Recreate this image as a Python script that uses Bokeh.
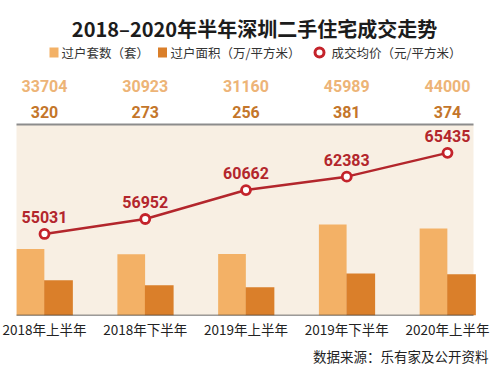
from bokeh.plotting import figure
from bokeh.models import Range1d, FixedTicker, BoxAnnotation, Title
from bokeh.core.properties import value
from bokeh.embed import file_html
from bokeh.resources import INLINE

# ---- data ----
periods = ["2018年上半年", "2018年下半年", "2019年上半年", "2019年下半年", "2020年上半年"]
deals = [33704, 30923, 31160, 45989, 44000]          # 过户套数（套）
areas = [320, 273, 256, 381, 374]                     # 过户面积（万/平方米）
prices = [55031, 56952, 60662, 62383, 65435]          # 成交均价（元/平方米）

title_text = "2018–2020年半年深圳二手住宅成交走势"
legend_labels = ["过户套数（套）", "过户面积（万/平方米）", "成交均价（元/平方米）"]
source_text = "数据来源：乐有家及公开资料"

# ---- style ----
C_LIGHT = "#F3B166"
C_DARK = "#DA7F2A"
C_RED = "#B3262C"
C_BG = "#F8EFE3"
C_NUM_LIGHT = "#EDB477"
C_NUM_DARK = "#C4762A"
CJK = "Noto Sans CJK SC"
NUM_FONT = "Roboto"

idx = list(range(len(periods)))

p = figure(width=500, height=377, output_backend="svg", toolbar_location=None,
           x_range=Range1d(-0.4367, 4.526), y_range=Range1d(44570, 84980),
           y_axis_location=None, min_border=0, min_border_bottom=62,
           outline_line_color=None, background_fill_color="white",
           border_fill_color="white")
p.grid.visible = False
p.extra_y_ranges = {"px": Range1d(315, 0),
                    "cnt": Range1d(0, 159357),
                    "area": Range1d(0, 2851)}
p.extra_x_ranges = {"pxx": Range1d(0, 500)}

# plot area background and lines
p.add_layout(BoxAnnotation(left=16, right=473, top=124, bottom=315,
                           x_range_name="pxx", y_range_name="px",
                           fill_color=C_BG, fill_alpha=1, line_color=None, level="underlay"))
p.segment(x0=[16], x1=[473], y0=[124], y1=[124], x_range_name="pxx", y_range_name="px",
          line_color="#8c8c8c", line_width=2)

# bars
p.vbar(x=[i - 0.139 for i in idx], top=deals, width=0.275, bottom=0,
       y_range_name="cnt", fill_color=C_LIGHT, line_color=None)
p.vbar(x=[i + 0.139 for i in idx], top=areas, width=0.285, bottom=0,
       y_range_name="area", fill_color=C_DARK, line_color=None)

p.segment(x0=[16], x1=[473], y0=[315], y1=[315], x_range_name="pxx", y_range_name="px",
          line_color="#3a3a3a", line_width=1.5)

# price line
p.line(idx, prices, line_color=C_RED, line_width=2.5)
p.scatter(idx, prices, size=9, fill_color="white", line_color="#C4232B", line_width=2.8)
p.text(idx, prices, text=[str(v) for v in prices], y_offset=-17,
       text_align="center", text_baseline="middle", text_color=C_RED,
       text_font=value(NUM_FONT), text_font_style="bold", text_font_size="16px")

# top value rows
p.text(idx, [85] * 5, text=[str(v) for v in deals], y_range_name="px",
       text_align="center", text_baseline="middle", text_color=C_NUM_LIGHT,
       text_font=value(NUM_FONT), text_font_style="bold", text_font_size="16px")
p.text(idx, [111] * 5, text=[str(v) for v in areas], y_range_name="px",
       text_align="center", text_baseline="middle", text_color=C_NUM_DARK,
       text_font=value(NUM_FONT), text_font_style="bold", text_font_size="16px")

# title
p.text([254], [28], text=[title_text], x_range_name="pxx", y_range_name="px",
       text_align="center", text_baseline="middle", text_color="#1c1c1c",
       text_font=value(CJK), text_font_style="bold", text_font_size="20px")

# legend
p.rect([53.5], [52], width=9, height=10, x_range_name="pxx", y_range_name="px",
       fill_color=C_LIGHT, line_color=None)
p.rect([162], [52], width=9, height=10, x_range_name="pxx", y_range_name="px",
       fill_color=C_DARK, line_color=None)
p.scatter([319], [52], size=9, x_range_name="pxx", y_range_name="px",
          fill_color="white", line_color="#C4232B", line_width=3)
p.text([61, 170, 331], [52] * 3, text=legend_labels, x_range_name="pxx", y_range_name="px",
       text_align="left", text_baseline="middle", text_color="#333333",
       text_font=value(CJK), text_font_size="12.5px")

# x axis
ax = p.xaxis[0]
ax.ticker = FixedTicker(ticks=idx)
ax.major_label_overrides = {i: s for i, s in zip(idx, periods)}
ax.axis_line_color = None
ax.major_tick_line_color = None
ax.minor_tick_line_color = None
ax.major_tick_out = 0
ax.major_tick_in = 0
ax.minor_tick_out = 0
ax.major_label_standoff = 3
ax.major_label_text_font = CJK
ax.major_label_text_font_size = "13.5px"
ax.major_label_text_color = "#222222"

# source
p.add_layout(Title(text=source_text, align="right", offset=12, standoff=4,
                   text_font=CJK, text_font_size="13.5px", text_font_style="normal",
                   text_color="#222222"), "below")

open("out.html", "w").write(file_html(p, INLINE))
